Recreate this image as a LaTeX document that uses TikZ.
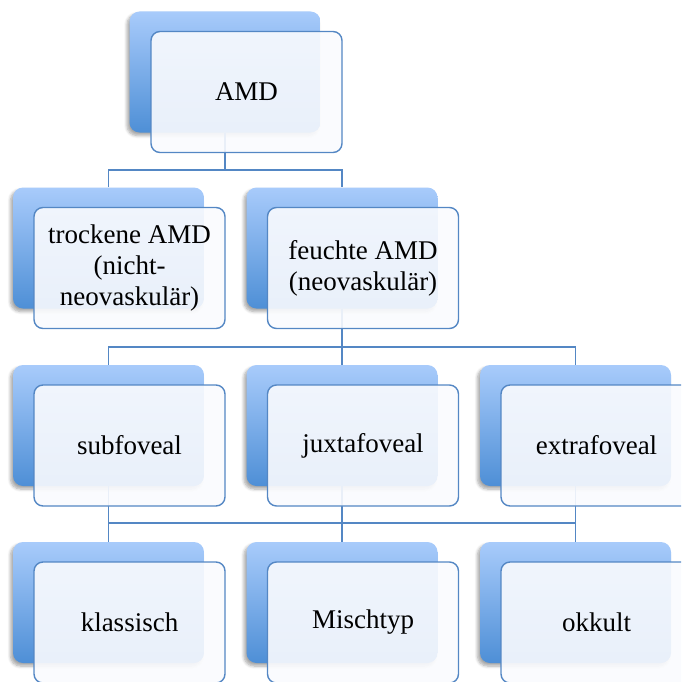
\documentclass[tikz,border=0pt]{standalone}
\usepackage{fontspec}
\setmainfont{Liberation Serif}
\usetikzlibrary{shadows.blur}
\definecolor{lineblue}{RGB}{84,135,196}
\definecolor{backtop}{RGB}{168,203,251}
\definecolor{backbot}{RGB}{78,143,214}
\definecolor{frontfill}{RGB}{250,251,254}
\tikzset{
  backbox/.style={rectangle, rounded corners=10pt, minimum width=191pt, minimum height=121pt,
    inner sep=0pt, top color=backtop, bottom color=backbot, draw=none,
    blur shadow={shadow xshift=-2.5pt, shadow yshift=-3pt, shadow blur steps=6,
      shadow blur radius=3pt, shadow opacity=35}},
  frontbox/.style={rectangle, rounded corners=9pt, minimum width=191pt, minimum height=121pt,
    inner sep=0pt, draw=lineblue, line width=1.4pt, fill=frontfill, fill opacity=0.9,
    text opacity=1, align=center, font=\fontsize{27}{31}\selectfont},
  conn/.style={draw=lineblue, line width=1.6pt},
}
\begin{document}
\begin{tikzpicture}[x=1pt, y=-1pt]
\clip (0,0) rectangle (681,682);
% back boxes
\node[backbox] (amdB) at (225,72) {};
\node[backbox] (troB) at (108.5,248) {};
\node[backbox] (feuB) at (342,248) {};
\node[backbox] (subB) at (108.5,425.5) {};
\node[backbox] (juxB) at (342,425.5) {};
\node[backbox] (extB) at (575.5,425.5) {};
\node[backbox] (klaB) at (108.5,602.5) {};
\node[backbox] (misB) at (342,602.5) {};
\node[backbox] (okkB) at (575.5,602.5) {};
% bus coordinates
\coordinate (bus1) at (225,170);
\coordinate (bus2) at (342,347);
\coordinate (bus3) at (342,523);
% connectors
\draw[conn] (amdB.south) -- (bus1);
\draw[conn] (troB.north) |- (bus1) -| (feuB.north);
\draw[conn] (feuB.south) -- (bus2);
\draw[conn] (subB.north) |- (bus2) -| (extB.north);
\draw[conn] (bus2) -- (juxB.north);
\draw[conn] (subB.south) |- (bus3);
\draw[conn] (extB.south) |- (bus3);
\draw[conn] (juxB.south) -- (bus3);
\draw[conn] (klaB.north) |- (bus3) -| (okkB.north);
\draw[conn] (bus3) -- (misB.north);
% front boxes
\node[frontbox] (amd) at (246.5,92) {AMD};
\node[frontbox] (tro) at (129.5,268) {trockene AMD\\(nicht-\\neovaskulär)};
\node[frontbox] (feu) at (363,268) {feuchte AMD\\(neovaskulär)};
\node[frontbox] (sub) at (129.5,445.5) {subfoveal};
\node[frontbox] (jux) at (363,445.5) {juxtafoveal};
\node[frontbox] (ext) at (596.5,445.5) {extrafoveal};
\node[frontbox] (kla) at (129.5,622.5) {klassisch};
\node[frontbox] (mis) at (363,622.5) {Mischtyp};
\node[frontbox] (okk) at (596.5,622.5) {okkult};
\end{tikzpicture}
\end{document}
